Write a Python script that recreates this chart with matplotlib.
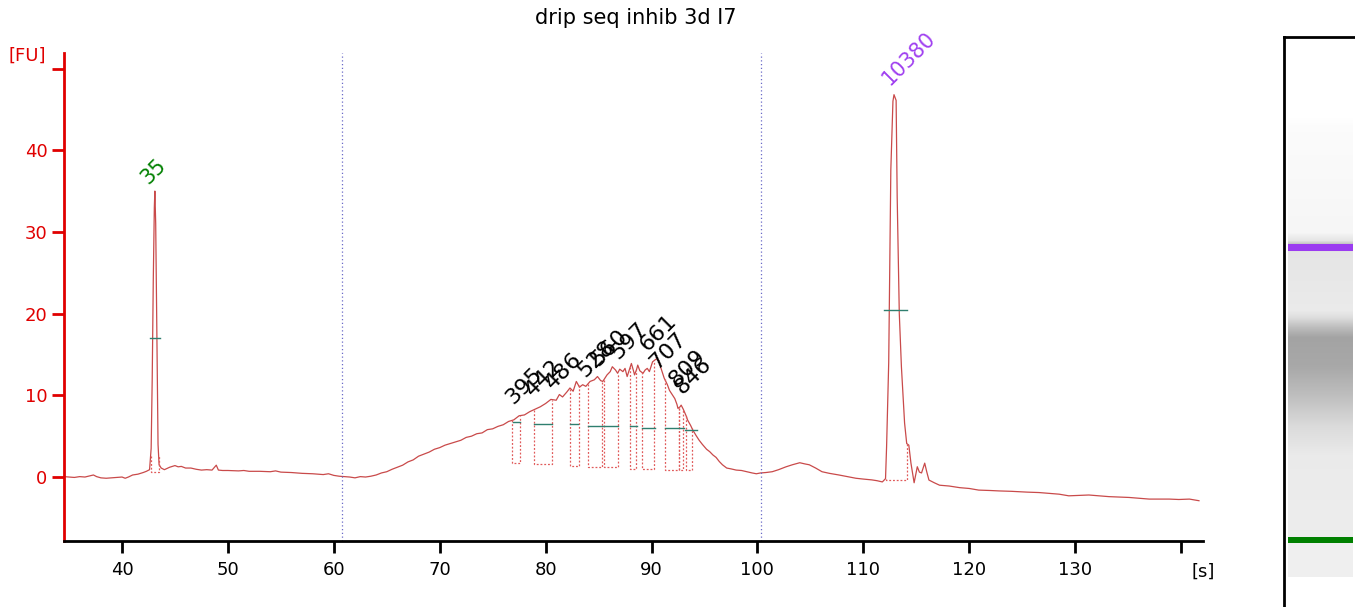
import numpy as np
import matplotlib
matplotlib.use('Agg')
import matplotlib.pyplot as plt

# electropherogram trace (time [s], fluorescence [FU])
trace_t = [34.5, 35.0, 35.5, 36.0, 36.5, 37.0, 37.3, 37.6, 38.0, 38.5, 39.0, 39.5, 40.0, 40.3, 40.6,
           41.0, 41.5, 42.0, 42.3, 42.6,
           42.75, 42.85, 42.95, 43.05, 43.1, 43.18, 43.25, 43.32, 43.4, 43.5, 43.7,
           44.0, 44.5, 45.0, 45.3, 45.6, 46.0, 46.5, 47.0, 47.5, 48.0, 48.5, 48.9, 49.1, 49.5,
           50.0, 51.0, 51.5, 52.0, 53.0, 54.0, 54.5, 55.0, 56.0, 57.0, 58.0, 59.0, 59.5, 60.0,
           60.5, 61.0, 61.5, 62.0, 62.5, 63.0, 63.5, 64.0, 64.5, 65.0, 65.5, 66.0, 66.5, 67.0,
           67.5, 68.0, 68.5, 69.0, 69.5, 70.0, 70.5, 71.0, 71.5, 72.0, 72.5, 73.0, 73.5, 74.0,
           74.5, 75.0, 75.5, 76.0, 76.5, 77.0, 77.5, 78.0, 78.5, 79.0, 79.5, 80.0, 80.5, 81.0,
           81.3, 81.6, 82.0, 82.3, 82.6, 82.9, 83.2, 83.5, 83.8, 84.2, 84.6, 84.9, 85.2, 85.4,
           85.8, 86.1, 86.3, 86.6, 86.8, 87.0, 87.3, 87.5, 87.7, 87.9, 88.1, 88.3, 88.4, 88.6,
           88.7, 88.9, 89.2, 89.4, 89.6, 89.8, 90.1, 90.3, 90.5, 90.7, 90.8, 91.0, 91.2, 91.5,
           91.7, 92.0, 92.2, 92.4, 92.5, 92.7, 92.8, 93.0, 93.1, 93.3, 93.4, 93.7, 93.9, 94.2,
           94.5, 94.8, 95.2, 95.5, 95.8, 96.1, 96.4, 96.7, 97.1, 97.5, 98.0, 98.5, 99.0, 99.5,
           99.9, 100.3, 100.8, 101.4, 102.0, 102.7, 103.3, 104.0, 104.5, 104.9, 105.5, 106.1,
           106.8, 107.7, 108.5, 109.3, 110.0, 110.8, 111.3, 111.8, 112.1,
           112.2, 112.4, 112.6, 112.8, 112.9, 113.1, 113.2, 113.4, 113.6, 113.9, 114.1, 114.3,
           114.5, 114.8, 115.1, 115.3, 115.5, 115.8, 116.0, 116.2, 116.7, 117.2, 118.1, 119.1,
           120.0, 120.9, 122.0, 122.8, 124.0, 124.7, 125.5, 126.6, 127.5, 128.5, 129.4, 130.3,
           131.3, 132.2, 133.2, 134.1, 135.1, 136.0, 137.0, 138.0, 138.9, 139.8, 140.8, 141.7]
trace_fu = [0.05, 0.0, -0.05, 0.05, 0.0, 0.15, 0.25, 0.05, -0.1, -0.15, -0.1, -0.05, 0.0, -0.15, 0.0,
            0.25, 0.35, 0.55, 0.7, 0.9,
            3.5, 12.0, 24.0, 33.0, 35.0, 31.0, 22.0, 12.0, 4.0, 1.5, 1.1,
            0.9, 1.2, 1.4, 1.25, 1.3, 1.1, 1.1, 0.95, 0.85, 0.9, 0.85, 1.45, 0.85, 0.8,
            0.8, 0.75, 0.8, 0.7, 0.7, 0.65, 0.75, 0.6, 0.55, 0.45, 0.4, 0.3, 0.4, 0.2,
            0.1, 0.05, 0.0, -0.1, 0.05, 0.0, 0.1, 0.25, 0.5, 0.65, 0.95, 1.2, 1.45, 1.85,
            2.1, 2.55, 2.8, 3.05, 3.4, 3.6, 3.9, 4.1, 4.3, 4.5, 4.85, 5.0, 5.3, 5.4,
            5.8, 5.9, 6.2, 6.4, 6.8, 7.0, 7.5, 7.6, 8.0, 8.3, 8.6, 9.0, 9.5, 9.4,
            10.1, 9.8, 10.4, 10.9, 10.5, 11.7, 11.0, 11.3, 11.1, 11.7, 11.9, 12.3, 11.8, 11.7,
            12.5, 12.9, 13.5, 13.1, 12.7, 13.2, 12.9, 13.3, 12.3, 13.1, 13.9, 13.0, 12.5, 13.2,
            13.7, 13.0, 12.7, 13.1, 13.3, 12.9, 14.1, 14.3, 14.5, 14.2, 13.7, 12.9, 12.1, 11.3,
            10.6, 10.0, 9.6, 8.9, 8.4, 8.6, 8.8, 8.3, 8.0, 7.4, 7.0, 6.3, 5.75, 5.1,
            4.5, 4.0, 3.4, 3.1, 2.7, 2.4, 1.9, 1.5, 1.1, 1.0, 0.85, 0.8, 0.65, 0.5,
            0.4, 0.5, 0.55, 0.65, 0.9, 1.25, 1.5, 1.75, 1.6, 1.5, 1.1, 0.65,
            0.45, 0.25, 0.05, -0.15, -0.25, -0.35, -0.45, -0.6, -0.2,
            3.7, 14.0, 37.6, 46.0, 46.8, 46.1, 34.3, 20.0, 13.5, 6.6, 4.1, 3.9,
            1.7, -0.7, 1.26, 0.6, 0.5, 1.7, 0.6, -0.37, -0.7, -1.0, -1.1, -1.3,
            -1.4, -1.6, -1.65, -1.7, -1.75, -1.8, -1.85, -1.9, -2.0, -2.1, -2.3, -2.25,
            -2.2, -2.3, -2.4, -2.45, -2.5, -2.6, -2.7, -2.7, -2.7, -2.75, -2.7, -2.9]

# smear peaks: labels and where they sit
peak_labels = ['395', '442', '486', '528', '560', '597', '661', '707', '809', '846']
label_t = [76.92, 78.81, 80.70, 83.72, 84.95, 86.84, 89.58, 90.52, 92.4, 92.9]
label_fu = [8.8, 9.8, 10.65, 12.1, 13.45, 14.3, 15.3, 13.1, 11.0, 10.0]

# integration windows (start, end, baseline)
win_start = [42.7, 76.82, 78.90, 82.26, 83.99, 85.47, 87.99, 89.08, 91.23, 92.55, 93.27, 112.1]
win_end = [43.45, 77.61, 80.63, 83.11, 85.35, 86.82, 88.56, 90.25, 92.55, 92.99, 93.83, 114.1]
win_base = [0.6, 1.7, 1.6, 1.4, 1.2, 1.2, 1.0, 1.0, 0.85, 0.85, 0.85, -0.37]

# half height markers
half_t0 = [42.6, 76.9, 78.9, 82.3, 84.0, 88.0, 89.1, 91.3, 93.2, 112.0]
half_t1 = [43.6, 77.6, 80.6, 83.1, 86.8, 88.6, 90.3, 93.1, 94.3, 114.1]
half_fu = [17.0, 6.7, 6.45, 6.45, 6.25, 6.25, 6.05, 5.95, 5.75, 20.4]

# markers
lower_marker = ('35', 42.45, 35.7)
upper_marker = ('10380', 112.45, 47.8)
region_lines = [60.75, 100.3]

# gel lane: depth below top of frame (px) and grey level
gel_depth = [80, 90, 150, 195, 203, 206, 215, 273, 280, 290, 300, 330, 360, 390, 420, 499, 507, 540]
gel_grey = [1.0, 0.985, 0.975, 0.965, 0.9, 0.78, 0.9, 0.92, 0.87, 0.74, 0.64, 0.66, 0.75, 0.86,
            0.92, 0.93, 0.94, 0.94]
gel_bands = [(207, 214, '#9b3cf0'), (500, 506, '#008000')]

red = '#e00000'
trace_col = '#c94a4a'

fig = plt.figure(figsize=(13.55, 6.07), dpi=100)
ax = fig.add_axes([64 / 1355., 1 - 541 / 607., (1203 - 64) / 1355., (541 - 53) / 607.])

ax.plot(trace_t, trace_fu, color=trace_col, lw=0.9)

for x in region_lines:
    ax.axvline(x, color='#6a6ac8', lw=0.9, ls=(0, (1, 2)))

# integration windows, dotted
for t0, t1, b in zip(win_start, win_end, win_base):
    y0 = np.interp(t0, trace_t, trace_fu)
    y1 = np.interp(t1, trace_t, trace_fu)
    ax.plot([t0, t0, t1, t1], [y0, b, b, y1], color='#e05a5a', lw=0.9, ls=(0, (1.5, 1.5)))

for t0, t1, h in zip(half_t0, half_t1, half_fu):
    ax.plot([t0, t1], [h, h], color='#2f7f6f', lw=1.0)

for lab, t, f in zip(peak_labels, label_t, label_fu):
    ax.text(t, f, lab, rotation=45, rotation_mode='anchor', ha='left', va='baseline',
            fontsize=16, color='black')
ax.text(lower_marker[1], lower_marker[2], lower_marker[0], rotation=45, rotation_mode='anchor',
        ha='left', va='baseline', fontsize=15, color='#008000')
ax.text(upper_marker[1], upper_marker[2], upper_marker[0], rotation=45, rotation_mode='anchor',
        ha='left', va='baseline', fontsize=15, color='#a040f0')

ax.set_xlim(34.52, 142.08)
ax.set_ylim(-7.83, 51.9)
ax.set_xticks([40, 50, 60, 70, 80, 90, 100, 110, 120, 130, 140])
ax.set_xticklabels(['40', '50', '60', '70', '80', '90', '100', '110', '120', '130', ''])
ax.set_yticks([0, 10, 20, 30, 40, 50])
ax.set_yticklabels(['0', '10', '20', '30', '40', ''])

for s in ['top', 'right']:
    ax.spines[s].set_visible(False)
ax.spines['left'].set_color(red)
ax.spines['left'].set_linewidth(2)
ax.spines['bottom'].set_linewidth(2)
ax.tick_params(axis='y', colors=red, width=2, length=8.5, direction='out', labelsize=13, pad=3.5)
ax.tick_params(axis='x', colors='black', width=2, length=8.5, direction='out', labelsize=13, pad=6)

fig.text(27 / 1355., 1 - 56 / 607., '[FU]', color=red, fontsize=13, ha='center', va='center')
fig.text(1203 / 1355., 1 - 572 / 607., '[s]', color='black', fontsize=13, ha='center', va='center')
fig.text(636 / 1355., 1 - 18 / 607., 'drip seq inhib 3d I7', fontsize=15, ha='center', va='center')

# gel lane on the right
gax = fig.add_axes([1284 / 1355., 0.0, 71 / 1355., (607 - 37) / 607.])
rows = np.arange(gel_depth[0], gel_depth[-1] + 1)
grey = np.interp(rows, gel_depth, gel_grey)
img = np.repeat(grey[:, None], 3, axis=1)[:, None, :]
gax.imshow(img, extent=(4, 69, gel_depth[-1], gel_depth[0]), aspect='auto', interpolation='nearest')
for top, bot, col in gel_bands:
    gax.axhspan(top, bot, xmin=4 / 71., xmax=69 / 71., color=col, lw=0)
gax.set_xlim(0, 71)
gax.set_ylim(570, 0)
gax.set_xticks([])
gax.set_yticks([])
gax.spines['right'].set_visible(False)
gax.spines['bottom'].set_visible(False)
gax.spines['left'].set_linewidth(2)
gax.spines['top'].set_linewidth(2)

fig.savefig('out.png', dpi=100)
